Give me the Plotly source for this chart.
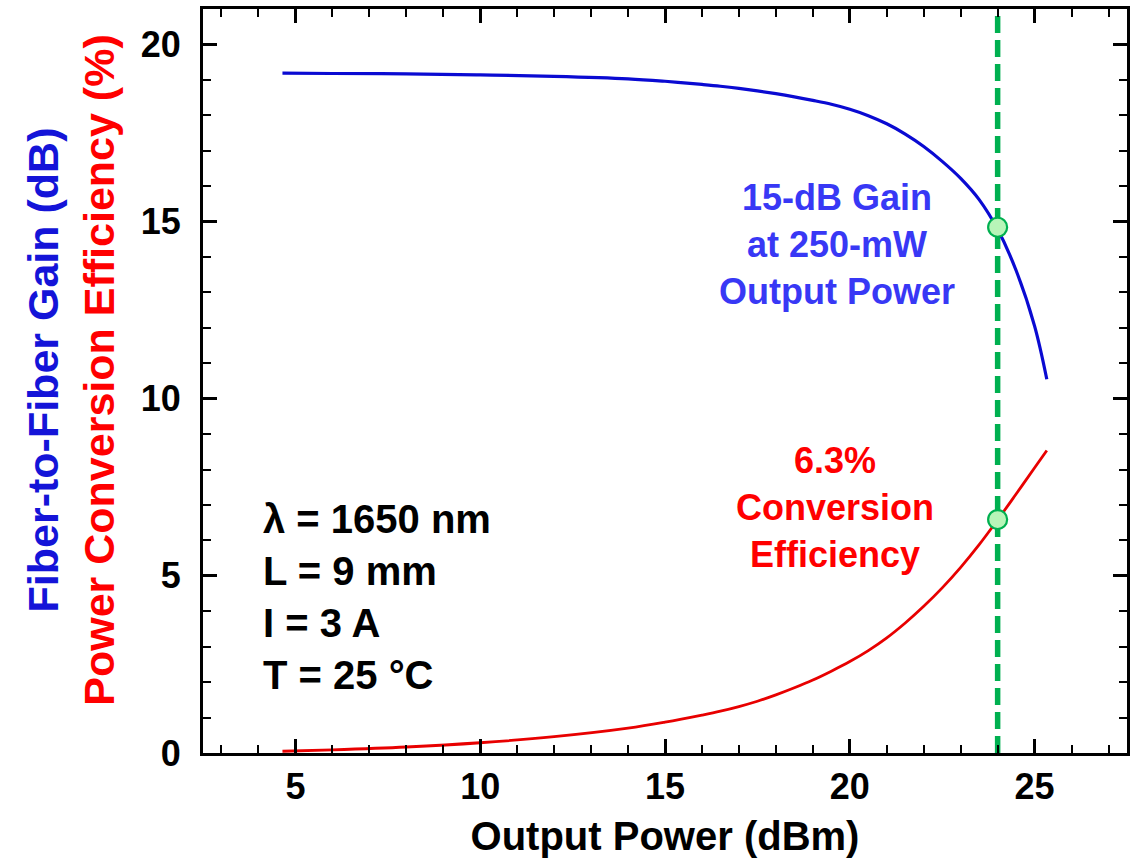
import plotly.graph_objects as go

# ---- data ----
output_power_dbm = [4.65, 6, 8, 10, 12, 14, 15, 16, 16.5, 17, 17.5, 18, 18.5, 19, 19.5, 20, 20.5, 21, 21.5,
                    22, 22.5, 23, 23.5, 24, 24.5, 25, 25.33]
gain_db = [19.19, 19.18, 19.17, 19.14, 19.10, 19.03, 18.96, 18.87, 18.82, 18.76, 18.69, 18.61, 18.52, 18.42,
           18.31, 18.17, 17.99, 17.76, 17.47, 17.12, 16.70, 16.22, 15.62, 14.78, 13.62, 12.05, 10.55]
efficiency_pct = [0.05, 0.09, 0.17, 0.29, 0.46, 0.70, 0.87, 1.07, 1.18, 1.31, 1.46, 1.64, 1.84, 2.06, 2.31,
                  2.58, 2.89, 3.25, 3.67, 4.14, 4.66, 5.24, 5.88, 6.58, 7.31, 8.05, 8.54]
marker_x = [24, 24]
marker_y = [14.84, 6.59]
vline_x = 24
x_ticks = [5, 10, 15, 20, 25]
y_ticks = [0, 5, 10, 15, 20]

FONT = "Liberation Sans, Arial, sans-serif"
BLUE_LINE = "#0a0ad2"
BLUE_TEXT = "#3838f5"
BLUE_TITLE = "#1414d8"
RED_LINE = "#e80000"
RED_TEXT = "#ff0000"
GREEN = "#00b050"

fig = go.Figure()

fig.add_trace(go.Scatter(x=[vline_x, vline_x], y=[0, 21], mode="lines",
                         line=dict(color=GREEN, width=5.5, dash="17px,7px"),
                         hoverinfo="skip", showlegend=False))
fig.add_trace(go.Scatter(x=output_power_dbm, y=gain_db, mode="lines",
                         line=dict(color=BLUE_LINE, width=3.2, shape="spline", smoothing=1.0),
                         showlegend=False))
fig.add_trace(go.Scatter(x=output_power_dbm, y=efficiency_pct, mode="lines",
                         line=dict(color=RED_LINE, width=2.8, shape="spline", smoothing=1.0),
                         showlegend=False))
fig.add_trace(go.Scatter(x=marker_x, y=marker_y, mode="markers",
                         marker=dict(size=19, color="#b8f5b8", line=dict(color=GREEN, width=2.2)),
                         showlegend=False))

axis_common = dict(
    showline=True, linecolor="black", linewidth=3, mirror="allticks",
    ticks="inside", ticklen=14, tickwidth=2.5, tickcolor="black",
    showgrid=False, zeroline=False,
    tickfont=dict(family=FONT, size=36, color="black", weight="bold"),
)

fig.update_xaxes(range=[2.5, 27.5], tickvals=x_ticks, ticktext=[str(v) for v in x_ticks],
                 minor=dict(dtick=1, tick0=0, ticks="inside", ticklen=8, tickwidth=2, tickcolor="black"),
                 ticklabelstandoff=0,
                 title=dict(text="Output Power (dBm)", standoff=16,
                            font=dict(family=FONT, size=40, color="black", weight="bold")),
                 **axis_common)
fig.update_yaxes(range=[0, 21], tickvals=y_ticks, ticktext=[str(v) for v in y_ticks],
                 minor=dict(dtick=1, tick0=0, ticks="inside", ticklen=8, tickwidth=2, tickcolor="black"),
                 ticklabelstandoff=12,
                 **axis_common)

annotations = [
    dict(text=(f"<span style='color:{BLUE_TITLE}'>Fiber-to-Fiber Gain (dB)</span><br>"
               f"<span style='color:{RED_TEXT}'>Power Conversion Efficiency (%)</span>"),
         xref="paper", yref="paper", x=-0.143, y=0.515, xanchor="center", yanchor="middle",
         textangle=-90, showarrow=False, align="center",
         font=dict(family=FONT, size=43, weight="bold")),
    dict(text="15-dB Gain<br>at 250-mW<br>Output Power", x=19.66, y=14.35,
         xanchor="center", yanchor="middle", showarrow=False, align="center",
         font=dict(family=FONT, size=36, color=BLUE_TEXT, weight="bold")),
    dict(text="6.3%<br>Conversion<br>Efficiency", x=19.60, y=6.92,
         xanchor="center", yanchor="middle", showarrow=False, align="center",
         font=dict(family=FONT, size=36, color=RED_TEXT, weight="bold")),
    dict(text="λ = 1650 nm<br>L = 9 mm<br>I = 3 A<br>T = 25 °C", x=4.08, y=4.41,
         xanchor="left", yanchor="middle", showarrow=False, align="left",
         font=dict(family=FONT, size=40, color="black", weight="bold")),
]

fig.update_layout(
    width=1138, height=865,
    margin=dict(l=203, r=11, t=6, b=112, pad=0),
    paper_bgcolor="white", plot_bgcolor="white",
    annotations=annotations,
    font=dict(family=FONT),
)

fig.write_html("out.html")
